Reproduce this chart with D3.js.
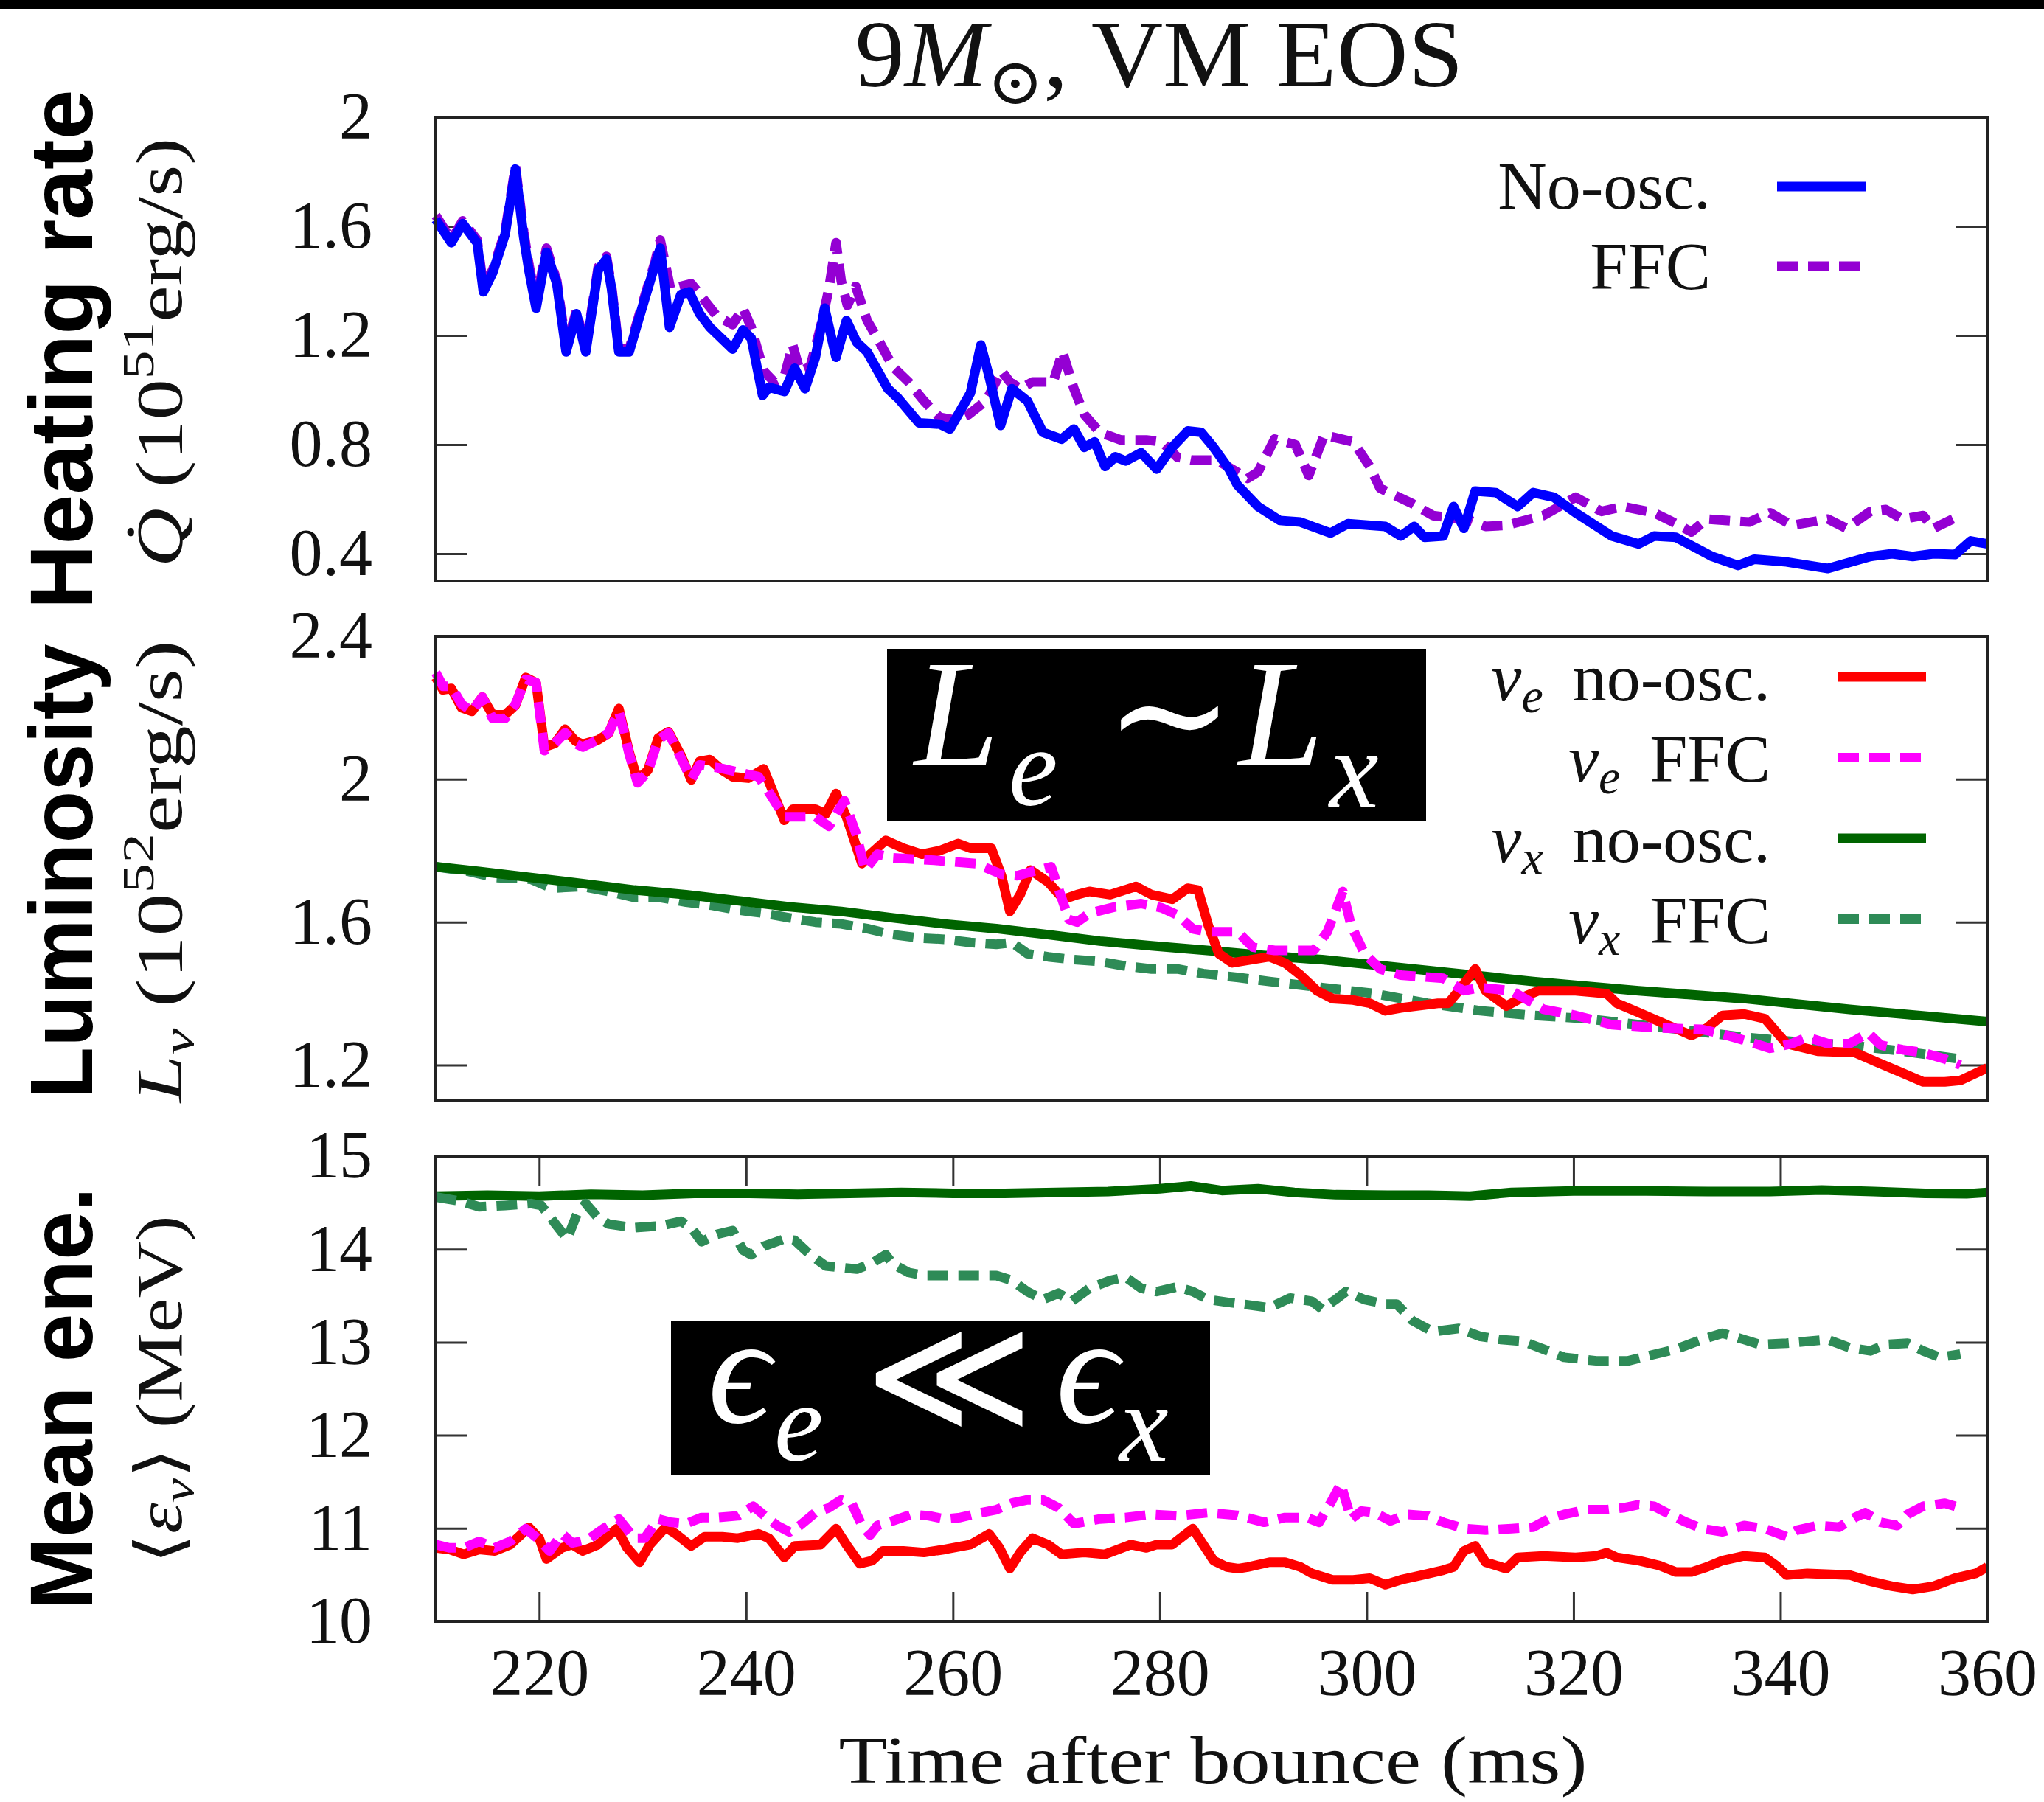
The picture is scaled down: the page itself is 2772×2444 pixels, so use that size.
<!DOCTYPE html>
<html>
<head>
<meta charset="utf-8">
<script src="https://cdn.jsdelivr.net/npm/d3@7"></script>
<style>
body { margin: 0; background: #fff; }
</style>
</head>
<body>
<div class="canvas"></div>
<script>
// ---- data ----
// heating rate, no-osc.
const tQNo = [210,211.5,212.6,214,214.6,215.5,216.7,217.7,218.5,219,219.7,220.7,221.7,222.6,223.6,224.5,225.7,226.5,227,227.7,228.7,229.7,231.2,231.7,232.6,233.7,234.5,235.5,236.5,238.7,239.7,240.5,241.6,242.2,243.7,244.7,245.7,246.7,247.6,248.7,249.7,250.7,251.7,253.7,254.7,256.7,258.7,259.7,261.7,262.7,263.5,264.6,265.7,267.2,268.7,270.5,271.7,272.7,273.7,274.7,275.7,276.7,278.2,279.7,281.2,282.7,284,285.2,286.7,287.5,289.5,291.6,293.6,296.5,298.2,301.8,303.3,304.6,305.6,307.4,308.4,309.4,310.5,312.5,314.6,316.1,318.1,320.2,323.7,326.3,327.8,329.9,333.4,335.9,337.5,340.6,344.6,348.7,350.8,352.8,354.8,356.9,358.4,360];
const qNo = [1.625,1.54,1.61,1.54,1.36,1.43,1.57,1.81,1.56,1.44,1.30,1.505,1.39,1.14,1.28,1.14,1.44,1.48,1.37,1.14,1.14,1.27,1.46,1.52,1.23,1.35,1.36,1.28,1.23,1.15,1.22,1.19,0.98,1.01,0.995,1.08,1.005,1.12,1.30,1.12,1.255,1.175,1.14,1.005,0.97,0.88,0.875,0.857,0.99,1.165,1.05,0.87,1.005,0.96,0.845,0.82,0.857,0.79,0.81,0.72,0.755,0.74,0.77,0.71,0.79,0.85,0.845,0.79,0.71,0.652,0.573,0.522,0.516,0.476,0.51,0.50,0.465,0.50,0.46,0.465,0.573,0.493,0.63,0.624,0.573,0.624,0.607,0.55,0.465,0.436,0.465,0.46,0.39,0.357,0.38,0.37,0.346,0.39,0.40,0.39,0.40,0.397,0.447,0.436];
// heating rate, FFC
const tQFfc = [210,211.5,212.6,214,214.6,215.5,216.7,217.7,218.5,219,219.7,220.7,221.7,222.6,223.6,224.5,225.7,226.5,227,227.7,228.7,229.7,231.2,231.7,232.7,234.7,237.2,238.7,239.7,240.5,241.7,242.7,243.7,244.5,245.2,246.2,247.2,248,248.7,249.2,249.8,250.6,251.7,252.7,254.2,255.7,257.2,258.7,260.2,261.5,263.2,264.7,265.5,266.5,267.7,269.7,270.6,271.7,272.7,274.2,276.2,278.7,280.2,281.7,283.2,285.5,288.5,289.5,291.1,293.1,294.4,295.9,298.7,300.3,301.3,304.4,306.4,310,311.5,313.5,317.1,320.2,322.7,324.8,327.8,329.3,331.4,332.9,337,339,341.1,344.6,346.4,348.7,350.2,351.8,353.8,354.8,357.4];
const qFfc = [1.64,1.55,1.62,1.55,1.38,1.44,1.58,1.82,1.58,1.46,1.32,1.52,1.40,1.16,1.29,1.15,1.45,1.49,1.38,1.15,1.15,1.28,1.47,1.55,1.37,1.39,1.27,1.24,1.30,1.23,1.07,1.03,1.05,1.165,1.07,1.085,1.23,1.37,1.54,1.40,1.31,1.38,1.255,1.19,1.085,1.03,0.96,0.90,0.89,0.91,0.96,1.07,1.03,1.005,1.03,1.03,1.14,1.005,0.91,0.845,0.817,0.817,0.81,0.754,0.743,0.743,0.676,0.70,0.82,0.80,0.687,0.835,0.81,0.72,0.64,0.584,0.54,0.522,0.50,0.504,0.54,0.607,0.555,0.573,0.55,0.522,0.48,0.527,0.516,0.55,0.504,0.527,0.493,0.555,0.562,0.527,0.54,0.493,0.54];

// luminosity, nu_e no-osc.
const tLNoE = [210,210.7,211.5,212.5,213.5,214.5,215.5,216.7,217.7,218.7,219.7,220.5,221.5,222.5,223.5,224.2,225.7,226.7,227.7,228.7,229.5,230.5,231.5,232.5,233.7,234.7,235.5,236.5,237.7,238.7,240.2,241.7,242.5,243.7,244.5,246.7,247.7,248.7,249.7,250.5,251.2,252,253.5,255.2,257,258.7,260.5,261.7,263.7,264.7,265.5,266.5,267.5,269.2,270.7,272,273.2,275.2,277.7,279.2,281.2,282.7,283.7,284.7,285.7,287,290.6,292.1,293.6,295.2,296.7,298.7,300.3,301.8,303.3,306.9,307.9,308.9,310.5,311.5,313.5,315.1,316.6,320.2,323.2,324.2,326.3,328.3,331.4,332.9,334.4,336.5,338.5,340.6,343.6,347.2,349.2,351.3,353.8,355.9,357.4,360];
const lNoE = [2.285,2.25,2.254,2.20,2.19,2.23,2.18,2.18,2.207,2.285,2.27,2.09,2.10,2.14,2.107,2.098,2.11,2.128,2.198,2.076,1.998,2.025,2.115,2.133,2.067,1.998,2.05,2.055,2.025,2.007,2.003,2.029,1.972,1.885,1.916,1.916,1.903,1.96,1.895,1.825,1.764,1.79,1.829,1.807,1.79,1.80,1.82,1.807,1.807,1.73,1.63,1.677,1.746,1.712,1.664,1.677,1.686,1.677,1.70,1.677,1.664,1.695,1.69,1.59,1.512,1.486,1.503,1.486,1.452,1.408,1.386,1.382,1.373,1.352,1.36,1.373,1.373,1.408,1.469,1.408,1.365,1.39,1.408,1.408,1.40,1.373,1.347,1.322,1.283,1.304,1.339,1.343,1.33,1.26,1.239,1.235,1.21,1.184,1.153,1.153,1.157,1.192];
// luminosity, nu_e FFC
const tLFfcE = [210,210.7,211.5,212.5,213.5,214.5,215.5,216.7,217.7,218.7,219.7,220.5,221.5,222.5,223.5,224.2,225.7,226.7,227.7,228.7,229.5,230.5,231.5,232.5,233.7,234.7,235.5,237.7,239.2,241.2,242.2,243.7,246.7,248,249.5,250.7,251.5,252.7,254.2,258.2,262.2,264.7,266.2,267.7,269.5,271.2,272,273.2,275.7,278.2,280.2,281.7,283.2,284.7,287.5,289,291.1,294.9,296.2,297.7,298.5,299.8,301.3,303.3,307.4,309.4,311,314,317.1,320.2,323.7,328.3,332.4,334.4,337,339,341.1,342.6,344.6,346.7,348.5,349.7,351.8,353.8,355.9,357.4];
const lFfcE = [2.298,2.26,2.26,2.21,2.19,2.23,2.17,2.17,2.21,2.28,2.27,2.08,2.10,2.13,2.10,2.09,2.11,2.13,2.19,2.07,1.99,2.02,2.11,2.13,2.06,2.0,2.04,2.03,2.02,2.007,1.964,1.895,1.895,1.868,1.94,1.842,1.746,1.79,1.78,1.773,1.764,1.734,1.73,1.742,1.755,1.608,1.60,1.625,1.643,1.652,1.64,1.62,1.581,1.573,1.573,1.53,1.521,1.521,1.573,1.686,1.59,1.512,1.469,1.452,1.443,1.408,1.417,1.408,1.356,1.339,1.313,1.304,1.30,1.287,1.265,1.247,1.26,1.278,1.26,1.26,1.29,1.256,1.243,1.235,1.217,1.20];
// luminosity, nu_x no-osc.
const tLNoX = [210,214.2,219.2,224.2,229.2,234.2,239.2,244.2,249.2,254.2,259.2,264.2,269.2,274.2,279.2,285,290,295.7,305.9,316.1,326.3,336.5,346.7,360];
const lNoX = [1.755,1.742,1.725,1.708,1.69,1.677,1.66,1.643,1.63,1.612,1.595,1.582,1.565,1.547,1.534,1.52,1.507,1.495,1.465,1.434,1.408,1.386,1.356,1.322];
// luminosity, nu_x FFC
const tLFfcX = [210,213.2,215.7,219.2,221.2,224.2,226.7,229.2,231.7,234.2,236.7,239.2,241.7,244.2,246.7,249.2,251.7,254.2,256.7,259.2,261.7,264.2,265.7,267.2,269.2,271.7,274.2,276.7,279.2,281.7,284.2,287.6,290.6,295.7,300.8,305.9,311,316.1,321.2,326.3,331.4,336.5,341.6,346.7,351.8,357.4];
const lFfcX = [1.755,1.742,1.725,1.72,1.695,1.70,1.686,1.669,1.669,1.656,1.647,1.634,1.625,1.612,1.60,1.595,1.582,1.565,1.556,1.552,1.543,1.538,1.543,1.512,1.503,1.495,1.49,1.477,1.469,1.469,1.456,1.445,1.434,1.417,1.40,1.373,1.352,1.339,1.33,1.313,1.296,1.278,1.265,1.256,1.239,1.217];

// mean energy, nu_x no-osc.
const tENoX = [210,215,220,225,230,235,240,245,250,255,260,265,270,275,280,283,286,289.5,293,297,302,306,310,314,320,327,333,339,344,349,354,358,360];
const eNoX = [14.57,14.58,14.57,14.59,14.58,14.6,14.6,14.59,14.6,14.61,14.6,14.6,14.61,14.62,14.65,14.68,14.63,14.65,14.61,14.585,14.58,14.58,14.57,14.61,14.625,14.625,14.62,14.62,14.635,14.62,14.6,14.595,14.61];
// mean energy, nu_x FFC
const tEFfcX = [210,212.2,214.2,216.7,219.2,220.2,221.5,222.7,223.7,224.5,225.7,226.7,229.2,231.7,233.7,234.7,235.7,237.2,238.7,239.7,240.5,241.7,243.7,244.7,246.2,247.7,250.7,252.2,253.5,254.2,255.7,257.2,264.2,265.7,267.2,268.7,270.2,271.5,273.2,275.2,276.7,278.2,279.7,281.7,283.2,284.7,286.5,288,290.6,292.6,294.7,295.7,297.2,298,299.8,301.8,302.9,304.4,306.4,308.9,311,313,315.1,317.1,319.1,322.2,325.3,327.3,329.9,332.4,334.4,336.5,338,340.6,344.6,346.7,348.7,350.2,352.3,353.8,355.4,357.4];
const eFfcX = [14.56,14.52,14.455,14.47,14.49,14.47,14.28,14.11,14.39,14.49,14.336,14.27,14.23,14.25,14.30,14.23,14.08,14.16,14.2,13.99,13.94,14.03,14.11,14.095,13.94,13.82,13.785,13.85,13.94,13.84,13.75,13.716,13.716,13.664,13.544,13.458,13.527,13.44,13.58,13.664,13.70,13.58,13.544,13.595,13.544,13.458,13.43,13.41,13.37,13.475,13.44,13.355,13.475,13.544,13.458,13.41,13.41,13.234,13.113,13.148,13.062,13.028,13.01,12.925,12.838,12.80,12.80,12.856,12.925,13.028,13.096,13.028,12.976,12.99,13.028,12.94,12.907,12.976,12.99,12.907,12.838,12.873];
// mean energy, nu_e no-osc.
const tENoE = [210,211.3,212.7,214.2,215.7,217.2,219,220,220.7,222.2,223.2,224.2,225.7,227.5,228.5,229.7,230.7,232.2,233.2,234.7,236,237.7,239.2,241.2,242.2,243.7,244.7,247.2,248.7,249.7,251,252.2,253.2,255.2,257.2,259.2,261.7,263.5,264.5,265.5,266.5,267.7,269.2,270.5,272.7,274.7,277.2,278.7,279.7,281.2,283.2,284.2,285.2,286.5,287.6,288.5,290.6,292.1,293.6,294.7,296.7,298.7,300.3,301.8,303.3,305.4,307.4,308.4,309.4,310.5,311.5,313.5,314.6,317.1,320.2,322.2,323.2,324.2,326.3,328.3,329.9,331.4,332.9,334.4,336.5,338.5,339.6,340.6,342.6,346.7,348.7,350.8,352.8,354.8,356.9,358.9,360];
const eNoE = [10.79,10.773,10.72,10.773,10.756,10.825,11.01,10.894,10.67,10.79,10.825,10.756,10.825,10.997,10.79,10.635,10.825,11.01,10.94,10.81,10.91,10.91,10.894,10.94,10.894,10.687,10.81,10.825,10.997,10.825,10.62,10.653,10.756,10.756,10.74,10.773,10.825,10.94,10.79,10.567,10.74,10.894,10.825,10.72,10.74,10.72,10.825,10.79,10.825,10.825,10.997,10.825,10.653,10.584,10.567,10.584,10.636,10.636,10.584,10.516,10.446,10.446,10.464,10.394,10.446,10.498,10.55,10.584,10.756,10.81,10.636,10.567,10.687,10.704,10.687,10.704,10.738,10.687,10.653,10.60,10.53,10.53,10.584,10.653,10.704,10.687,10.60,10.498,10.516,10.498,10.43,10.378,10.343,10.378,10.464,10.516,10.584];
// mean energy, nu_e FFC
const tEFfcE = [210,211.3,212.7,214.2,215.7,217.2,218.7,220,221,222.2,223.2,224.7,226.2,227.7,229.2,230.2,231.5,232.7,234.2,235.7,237.2,239.2,240.7,242,243,244.2,245.2,246.7,248,249.2,250.2,251.2,252,252.7,254.2,256,257.7,259.2,260.7,262.7,264.2,265.7,267.2,268.7,270.2,271.7,274.2,276.7,279.2,281.7,284.7,287.5,290.1,292.1,294.2,295.4,296.5,297.5,298.5,299.5,300.8,302.3,303.9,305.9,307.4,309.4,311.5,314,316.1,317.6,319.1,321.2,323.2,324.8,326.3,327.8,329.3,330.9,332.4,334.4,336.5,338.5,340.6,341.6,343.6,345.7,347.2,348.2,349.7,351.3,352.3,353.8,355.9,357.4];
const eFfcE = [10.825,10.79,10.79,10.86,10.79,10.86,10.997,10.877,10.756,10.94,10.842,10.877,10.997,11.1,10.894,10.894,11.1,11.065,11.05,11.116,11.116,11.134,11.237,11.116,11.03,10.96,11.03,11.168,11.22,11.306,11.27,11.03,10.928,11.03,11.08,11.15,11.134,11.1,11.116,11.168,11.2,11.27,11.306,11.306,11.22,11.05,11.1,11.116,11.15,11.134,11.168,11.14,11.065,11.116,11.116,11.065,11.27,11.478,11.1,11.186,11.168,11.08,11.15,11.134,11.065,10.997,10.98,10.997,11.013,11.1,11.15,11.2,11.2,11.22,11.254,11.237,11.15,11.065,10.997,10.962,11.03,10.997,10.91,10.98,11.03,11.013,11.116,11.168,11.065,11.03,11.15,11.237,11.27,11.22];

// axis ticks
const qTicks = [0.4, 0.8, 1.2, 1.6, 2];
const lTicks = [1.2, 1.6, 2, 2.4];
const eTicks = [10, 11, 12, 13, 14, 15];
const tTicks = [220, 240, 260, 280, 300, 320, 340, 360];

// ---- layout ----
const W = 2772, H = 2444;
const left = 591, right = 2695;
const serif = '"Liberation Serif", "DejaVu Serif", serif';
const sans = '"Liberation Sans", Arial, sans-serif';

const svg = d3.select('.canvas').append('svg')
	.attr('width', W).attr('height', H)
	.style('display', 'block');

svg.append('rect').attr('width', W).attr('height', H).attr('fill', '#fff');
svg.append('rect').attr('width', W).attr('height', 12).attr('fill', '#000');

const x = d3.scaleLinear().domain([210, 360]).range([left, right]);

const panels = [
	{ top: 159, bottom: 788, domain: [0.3, 2.0], ticks: qTicks },
	{ top: 863, bottom: 1493, domain: [1.1, 2.4], ticks: lTicks },
	{ top: 1568, bottom: 2199, domain: [10, 15], ticks: eTicks }
];
panels.forEach(p => {
	p.y = d3.scaleLinear().domain(p.domain).range([p.bottom, p.top]);
});

const styleAxis = g => {
	g.select('.domain').remove();
	g.selectAll('.tick line').attr('stroke', '#333').attr('stroke-width', 3);
	g.selectAll('.tick text').attr('fill', '#111');
	g.attr('font-size', 90).attr('font-family', serif);
};

// y axes, ticks inside on both sides
panels.forEach(p => {
	svg.append('g')
		.attr('transform', `translate(${left},0)`)
		.call(d3.axisLeft(p.y).tickValues(p.ticks).tickSize(-42).tickPadding(86).tickFormat(d => String(d)))
		.call(styleAxis);
	svg.append('g')
		.attr('transform', `translate(${right},0)`)
		.call(d3.axisRight(p.y).tickValues(p.ticks).tickSize(-42).tickFormat(''))
		.call(styleAxis);
});

// x axis only on the bottom panel (ticks top and bottom)
const p3 = panels[2];
svg.append('g')
	.attr('transform', `translate(0,${p3.bottom})`)
	.call(d3.axisBottom(x).tickValues(tTicks).tickSize(-40).tickPadding(36))
	.call(styleAxis);
svg.append('g')
	.attr('transform', `translate(0,${p3.top})`)
	.call(d3.axisTop(x).tickValues(tTicks).tickSize(-40).tickFormat(''))
	.call(styleAxis);

// curves
const zip = (ts, vs) => ts.map((t, i) => [t, vs[i]]);
const series = [
	{ p: 0, t: tQFfc, v: qFfc, color: '#9400d3', dash: true },
	{ p: 0, t: tQNo, v: qNo, color: '#0000ff', dash: false },
	{ p: 1, t: tLFfcX, v: lFfcX, color: '#2e8b57', dash: true },
	{ p: 1, t: tLNoX, v: lNoX, color: '#006400', dash: false },
	{ p: 1, t: tLNoE, v: lNoE, color: '#ff0000', dash: false },
	{ p: 1, t: tLFfcE, v: lFfcE, color: '#ff00ff', dash: true },
	{ p: 2, t: tENoX, v: eNoX, color: '#006400', dash: false },
	{ p: 2, t: tEFfcX, v: eFfcX, color: '#2e8b57', dash: true },
	{ p: 2, t: tENoE, v: eNoE, color: '#ff0000', dash: false },
	{ p: 2, t: tEFfcE, v: eFfcE, color: '#ff00ff', dash: true }
];
series.forEach(s => {
	const y = panels[s.p].y;
	const line = d3.line().x(d => x(d[0])).y(d => y(d[1]));
	svg.append('path')
		.datum(zip(s.t, s.v))
		.attr('d', line)
		.attr('fill', 'none')
		.attr('stroke', s.color)
		.attr('stroke-width', 13)
		.attr('stroke-linejoin', 'round')
		.attr('stroke-dasharray', s.dash ? '28,14' : null);
});

// frames
panels.forEach(p => {
	svg.append('rect')
		.attr('x', left).attr('y', p.top)
		.attr('width', right - left).attr('height', p.bottom - p.top)
		.attr('fill', 'none').attr('stroke', '#222').attr('stroke-width', 4);
});

// legends
const legendLine = (x0, x1, yy, color, dash) => {
	svg.append('line')
		.attr('x1', x0).attr('x2', x1).attr('y1', yy).attr('y2', yy)
		.attr('stroke', color).attr('stroke-width', 13)
		.attr('stroke-dasharray', dash ? '28,14' : null);
};
const legText = (xx, yy) => svg.append('text')
	.attr('x', xx).attr('y', yy)
	.attr('text-anchor', 'end')
	.attr('font-family', serif).attr('font-size', 92).attr('fill', '#111');

legText(2320, 283).text('No-osc.');
legendLine(2410, 2530, 253, '#0000ff', false);
legText(2320, 392).text('FFC');
legendLine(2410, 2530, 361, '#9400d3', true);

const lumLegend = [
	{ sub: 'e', txt: 'no-osc.', color: '#ff0000', dash: false },
	{ sub: 'e', txt: 'FFC', color: '#ff00ff', dash: true },
	{ sub: 'x', txt: 'no-osc.', color: '#006400', dash: false },
	{ sub: 'x', txt: 'FFC', color: '#2e8b57', dash: true }
];
lumLegend.forEach((d, i) => {
	const yy = 918 + i * 109.5;
	const t = legText(2401, yy + 32);
	t.append('tspan').attr('font-style', 'italic').text('ν');
	t.append('tspan').attr('font-style', 'italic').attr('font-size', 66).attr('dy', 16).text(d.sub);
	t.append('tspan').attr('dy', -16).attr('dx', 40).text(d.txt);
	legendLine(2493, 2612, yy, d.color, d.dash);
});

// black annotation boxes
svg.append('rect').attr('x', 1203).attr('y', 880).attr('width', 731).attr('height', 234).attr('fill', '#000');
svg.append('rect').attr('x', 910).attr('y', 1791).attr('width', 731).attr('height', 210).attr('fill', '#000');

const boxText = (xx, yy, size, str, italic) => svg.append('text')
	.attr('x', xx).attr('y', yy)
	.attr('font-family', '"Liberation Serif", "DejaVu Serif", serif')
	.attr('font-style', italic ? 'italic' : 'normal')
	.attr('font-size', size).attr('fill', '#fff').text(str);

boxText(1240, 1038, 207, 'L', true);
boxText(1368, 1092, 150, 'e', true);
boxText(1498, 1040, 210, '∼', false);
boxText(1680, 1038, 207, 'L', true);
boxText(1803, 1095, 150, 'x', true);

boxText(960, 1929, 210, 'ϵ', true);
boxText(1050, 1981, 150, 'e', true);
boxText(1172, 1940, 220, '≪', false);
boxText(1432, 1929, 210, 'ϵ', true);
boxText(1518, 1981, 150, 'x', true);

// title
const title = svg.append('text')
	.attr('x', 1572).attr('y', 117)
	.attr('text-anchor', 'middle')
	.attr('font-family', serif).attr('font-size', 130).attr('fill', '#111')
	.attr('textLength', 825).attr('lengthAdjust', 'spacingAndGlyphs');
title.append('tspan').text('9');
title.append('tspan').attr('font-style', 'italic').text('M');
title.append('tspan').attr('font-size', 88).attr('dy', 24).text('⊙');
title.append('tspan').attr('dy', -24).text(', VM EOS');

// x axis title
svg.append('text')
	.attr('x', 1645).attr('y', 2418)
	.attr('text-anchor', 'middle')
	.attr('font-family', serif).attr('font-size', 90).attr('fill', '#111')
	.attr('textLength', 1015).attr('lengthAdjust', 'spacingAndGlyphs')
	.text('Time after bounce (ms)');

// y axis titles (rotated)
const yTitle = (cy, len) => svg.append('text')
	.attr('transform', `translate(246,${cy}) rotate(-90)`)
	.attr('text-anchor', 'middle')
	.attr('font-family', serif).attr('font-size', 88).attr('fill', '#111')
	.attr('textLength', len).attr('lengthAdjust', 'spacingAndGlyphs');

const yq = yTitle(478, 582);
yq.append('tspan').attr('font-style', 'italic').text('Q̇');
yq.append('tspan').text(' (10');
yq.append('tspan').attr('font-size', 62).attr('dy', -38).text('51');
yq.append('tspan').attr('dy', 38).text('erg/s)');

const yl = yTitle(1182, 627);
yl.append('tspan').attr('font-style', 'italic').text('L');
yl.append('tspan').attr('font-style', 'italic').attr('font-size', 62).attr('dy', 16).text('ν');
yl.append('tspan').attr('dy', -16).text(' (10');
yl.append('tspan').attr('font-size', 62).attr('dy', -38).text('52');
yl.append('tspan').attr('dy', 38).text('erg/s)');

const ye = yTitle(1885, 473);
ye.append('tspan').text('⟨');
ye.append('tspan').attr('font-style', 'italic').text('ε');
ye.append('tspan').attr('font-style', 'italic').attr('font-size', 62).attr('dy', 16).text('ν');
ye.append('tspan').attr('dy', -16).text('⟩ (MeV)');

// big quantity labels on the far left
const bigLabels = [
	{ text: 'Heating rate', cy: 474, len: 705 },
	{ text: 'Luminosity', cy: 1182, len: 617 },
	{ text: 'Mean ene.', cy: 1897, len: 574 }
];
bigLabels.forEach(d => {
	svg.append('text')
		.attr('transform', `translate(125,${d.cy}) rotate(-90)`)
		.attr('text-anchor', 'middle')
		.attr('font-family', sans).attr('font-weight', 'bold')
		.attr('font-size', 120).attr('fill', '#000')
		.attr('textLength', d.len).attr('lengthAdjust', 'spacingAndGlyphs')
		.text(d.text);
});
</script>
</body>
</html>
